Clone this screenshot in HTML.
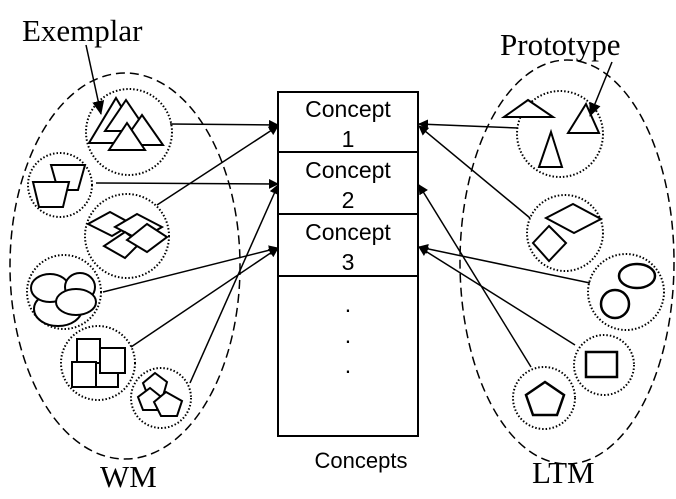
<!DOCTYPE html>
<html><head><style>body{margin:0;background:#fff}svg{display:block}</style></head><body>
<svg width="676" height="499" viewBox="0 0 676 499" xmlns="http://www.w3.org/2000/svg">
<defs><marker id="a" markerWidth="10" markerHeight="10" refX="9" refY="5" orient="auto" markerUnits="userSpaceOnUse"><path d="M0,0 L10,5 L0,10 Z" fill="#000"/></marker>
<marker id="b" markerWidth="14" markerHeight="12" refX="13" refY="6" orient="auto" markerUnits="userSpaceOnUse"><path d="M0,0 L14,6 L0,12 Z" fill="#000"/></marker></defs>
<g fill="none" stroke="#000">
<ellipse cx="125" cy="266" rx="115" ry="193" stroke-width="1.5" stroke-dasharray="9,5"/>
<ellipse cx="567" cy="262" rx="107" ry="202" stroke-width="1.5" stroke-dasharray="9,5"/>
<g stroke-width="2" stroke-dasharray="1.5,2">
<circle cx="129" cy="132" r="43"/><circle cx="60" cy="185" r="32"/><circle cx="127" cy="236" r="42"/>
<circle cx="64" cy="292" r="37"/><circle cx="98" cy="363" r="37"/><circle cx="161" cy="398" r="30"/>
<circle cx="560" cy="134" r="43"/><circle cx="565" cy="233" r="38"/><circle cx="626" cy="292" r="38"/>
<circle cx="604" cy="365" r="30"/><circle cx="544" cy="398" r="31"/>
</g>
<g stroke-width="2" fill="#fff">
<path d="M116,98 L143,143 L89,143 Z"/><path d="M126,100 L147,131 L105,131 Z"/>
<path d="M142,115 L163,145 L121,145 Z"/><path d="M127,123 L145,150 L109,150 Z"/>
<path d="M51,165 L85,165 L78,190 L58,190 Z"/><path d="M33,182 L69,182 L63,207 L39,207 Z"/>
<path d="M110,212 L132,224 L112,236 L88,224 Z"/><path d="M137,214 L162,227 L140,240 L115,227 Z"/>
<path d="M125,232 L140,243 L125,258 L104,246 Z"/><path d="M147,224 L167,237 L147,252 L127,240 Z"/>
<ellipse cx="58" cy="309" rx="24" ry="17"/><ellipse cx="50" cy="288" rx="19" ry="14"/>
<ellipse cx="80" cy="287" rx="15" ry="14"/><ellipse cx="76" cy="302" rx="20" ry="13"/>
<rect x="77" y="339" width="23" height="25"/><rect x="72" y="362" width="24" height="25"/>
<rect x="96" y="363" width="22" height="24"/><rect x="100" y="348" width="25" height="25"/>
<path d="M155,373 L167,382 L163,396 L148,396 L143,383 Z"/>
<path d="M150,388 L160,396 L157,410 L143,410 L138,397 Z"/>
<path d="M166,392 L182,401 L177,416 L161,416 L154,402 Z"/>
<path d="M528,100 L553,117 L504,117 Z"/>
<path d="M586,104 L599,133 L568,133 Z"/>
<path d="M551,132 L562,167 L539,167 Z"/>
<path d="M573,204 L601,219 L574,233 L546,218 Z"/>
<path d="M549,226 L566,243 L549,261 L533,243 Z"/>
<ellipse cx="637" cy="276" rx="18" ry="12" stroke-width="2.5"/>
<circle cx="615" cy="304" r="14" stroke-width="2.5"/>
<rect x="586" y="352" width="31" height="25" stroke-width="2.5"/>
<path d="M545,382 L564,395 L557,415 L533,415 L526,395 Z" stroke-width="2.5"/>
</g>
<rect x="278" y="92" width="140" height="344" stroke-width="2" fill="#fff"/>
<line x1="278" y1="152" x2="418" y2="152" stroke-width="2"/>
<line x1="278" y1="214" x2="418" y2="214" stroke-width="2"/>
<line x1="278" y1="276" x2="418" y2="276" stroke-width="2"/>
<g stroke-width="1.5">
<line x1="170" y1="124" x2="278" y2="125" marker-end="url(#a)"/>
<line x1="96" y1="183" x2="278" y2="184" marker-end="url(#a)"/>
<line x1="157" y1="205" x2="278" y2="126" marker-end="url(#a)"/>
<line x1="103" y1="292" x2="278" y2="248" marker-end="url(#a)"/>
<line x1="131" y1="347" x2="278" y2="248" marker-end="url(#a)"/>
<line x1="190" y1="383" x2="278" y2="185" marker-end="url(#a)"/>
<line x1="518" y1="128" x2="419" y2="124" marker-end="url(#a)"/>
<line x1="530" y1="218" x2="419" y2="126" marker-end="url(#a)"/>
<line x1="590" y1="283" x2="419" y2="247" marker-end="url(#a)"/>
<line x1="575" y1="345" x2="419" y2="247" marker-end="url(#a)"/>
<line x1="531" y1="367" x2="419" y2="185" marker-end="url(#a)"/>
<line x1="86" y1="45" x2="101" y2="114" marker-end="url(#b)"/>
<line x1="612" y1="62" x2="590" y2="116" marker-end="url(#b)"/>
</g>
</g>
<g font-family="Liberation Sans, sans-serif" font-size="23" text-anchor="middle">
<text x="348" y="117">Concept</text><text x="348" y="147">1</text>
<text x="348" y="178">Concept</text><text x="348" y="208">2</text>
<text x="348" y="240">Concept</text><text x="348" y="270">3</text>
<text x="348" y="312">.</text><text x="348" y="343">.</text><text x="348" y="373">.</text>
<text x="361" y="468" font-size="22">Concepts</text>
</g>
<g font-family="Liberation Serif, serif" font-size="31">
<text x="22" y="41">Exemplar</text>
<text x="500" y="55">Prototype</text>
<text x="100" y="487">WM</text>
<text x="532" y="483">LTM</text>
</g>
</svg>
</body></html>
